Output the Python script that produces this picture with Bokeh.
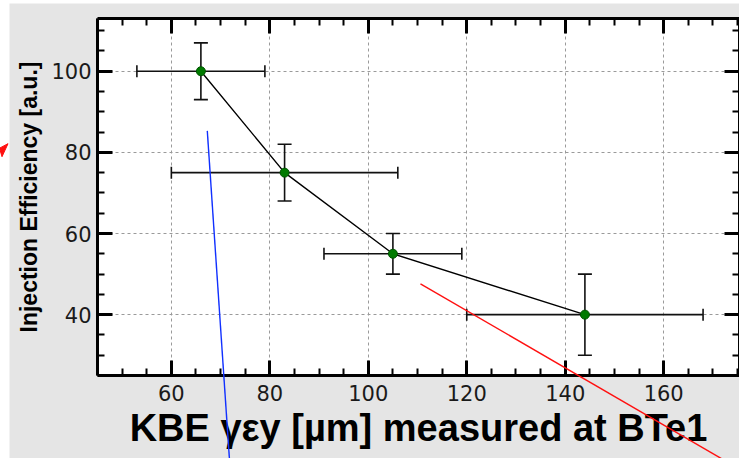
from bokeh.plotting import figure
from bokeh.models import ColumnDataSource, Whisker, TeeHead, LinearAxis, Range1d, FixedTicker
from bokeh.embed import file_html
from bokeh.resources import INLINE

# ---- data ----
emit_x = [66, 83, 105, 144]
eff = [100, 75, 55, 40]
emit_lo = [53, 60, 91, 120]
emit_hi = [79, 106, 119, 168]
eff_lo = [93, 68, 50, 30]
eff_hi = [107, 82, 60, 50]
x_ticks = [60, 80, 100, 120, 140, 160]
y_ticks = [40, 60, 80, 100]
# hand-drawn annotation lines (data coordinates)
blue_x = [67.3, 71.8]
blue_y = [85.3, 4.4]
red_x = [110.6, 171.9]
red_y = [47.6, 4.4]

X0, X1 = 45.0, 175.4
Y0, Y1 = 25.0, 113.0
W, H = 739, 458
FL, FT, FB = 97, 18, 374.5
sx = (W - FL) / (X1 - X0)
sy = (FB - FT) / (Y1 - Y0)

def dx(px):
    return X0 + (px - FL) / sx

def dy(py):
    return Y1 - (py - FT) / sy

p = figure(width=W, height=H, x_range=Range1d(X0, X1), y_range=Range1d(Y0, Y1),
           output_backend="svg", toolbar_location=None,
           min_border_left=FL, min_border_top=FT, min_border_bottom=int(H - FB),
           min_border_right=0)
p.background_fill_color = "white"
p.border_fill_color = "#e5e5e5"
p.outline_line_color = None

p.add_layout(LinearAxis(), "above")
p.add_layout(LinearAxis(), "right")

minor_x = list(range(45, 180, 5))
minor_y = list(range(25, 115, 5))

for ax in p.axis:
    ax.axis_line_width = 3
    ax.axis_line_color = "black"
    ax.major_tick_in = 15
    ax.major_tick_out = 0
    ax.major_tick_line_width = 3
    ax.minor_tick_in = 7
    ax.minor_tick_out = 0
    ax.minor_tick_line_width = 2
    ax.major_label_text_font = "DejaVu Sans"
    ax.major_label_text_font_size = "21px"
    ax.major_label_text_color = "#1a1a1a"

for ax in p.xaxis:
    ax.ticker = FixedTicker(ticks=x_ticks, minor_ticks=minor_x)
for ax in p.yaxis:
    ax.ticker = FixedTicker(ticks=y_ticks, minor_ticks=minor_y)

p.below[0].major_label_standoff = 9
p.left[0].major_label_standoff = 6
for ax in (p.above[0], p.right[0]):
    ax.major_label_overrides = {t: "" for t in (x_ticks if ax in p.above else y_ticks)}
    ax.major_label_standoff = 0

xa = p.below[0]
xa.axis_label = "KBE γεy [µm] measured at BTe1"
xa.axis_label_text_font = "Liberation Sans"
xa.axis_label_text_font_style = "bold"
xa.axis_label_text_font_size = "38px"
xa.axis_label_standoff = 3
xa.axis_label_text_color = "black"

ya = p.left[0]
ya.axis_label = "Injection Efficiency [a.u.]"
ya.axis_label_text_font = "Liberation Sans"
ya.axis_label_text_font_style = "bold"
ya.axis_label_text_font_size = "23px"
ya.axis_label_standoff = 6
ya.axis_label_text_color = "black"

p.xgrid.ticker = FixedTicker(ticks=x_ticks)
p.ygrid.ticker = FixedTicker(ticks=y_ticks)
for g in (p.xgrid[0], p.ygrid[0]):
    g.grid_line_color = "#9a9a9a"
    g.grid_line_dash = "3 3"
    g.grid_line_width = 1

src = ColumnDataSource(dict(x=emit_x, y=eff, xlo=emit_lo, xhi=emit_hi, ylo=eff_lo, yhi=eff_hi))

p.line("x", "y", source=src, line_color="black", line_width=1.4)

wx = Whisker(base="y", lower="xlo", upper="xhi", dimension="width", source=src,
             line_color="#111111", line_width=1.6,
             upper_head=TeeHead(size=12, line_width=1.6, line_color="#111111"),
             lower_head=TeeHead(size=12, line_width=1.6, line_color="#111111"))
wy = Whisker(base="x", lower="ylo", upper="yhi", dimension="height", source=src,
             line_color="#111111", line_width=1.6,
             upper_head=TeeHead(size=14, line_width=1.6, line_color="#111111"),
             lower_head=TeeHead(size=14, line_width=1.6, line_color="#111111"))
p.add_layout(wx)
p.add_layout(wy)

p.scatter("x", "y", source=src, marker="circle", size=9, fill_color="#007a00",
          line_color="#005500", line_width=1)

# annotation lines drawn on top, not clipped to frame
p.line(blue_x, blue_y, line_color="#1030ff", line_width=1.4, level="overlay")
p.line(red_x, red_y, line_color="#ff1010", line_width=1.4, level="overlay")

# white page strips at left and top
p.quad(left=[dx(-2)], right=[dx(9)], bottom=[dy(H + 2)], top=[dy(-2)],
       fill_color="white", line_color=None, level="overlay")
p.quad(left=[dx(-2)], right=[dx(W + 2)], bottom=[dy(3)], top=[dy(-2)],
       fill_color="white", line_color=None, level="overlay")
# small red arrow head at left edge
p.patch([dx(7.5), dx(-1), dx(1.5)], [dy(143), dy(147.5), dy(156)],
        fill_color="#ff1010", line_color="#ff1010", level="overlay")

open("out.html", "w").write(file_html(p, INLINE))
